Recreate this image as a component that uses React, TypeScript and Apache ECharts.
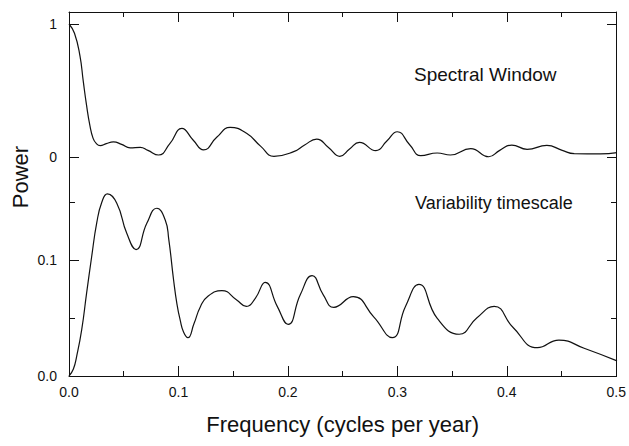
import React, { useEffect, useRef } from "react";
import * as echarts from "echarts";

// Spectral window: [frequency (cycles/yr), power]
const spectralFreq = [0, 0.005, 0.01, 0.013, 0.016, 0.019, 0.022, 0.025, 0.0285, 0.034, 0.0405, 0.048, 0.0558, 0.065, 0.072, 0.0817, 0.092, 0.103, 0.113, 0.1228, 0.135, 0.147, 0.162, 0.175, 0.187, 0.205, 0.215, 0.226, 0.237, 0.247, 0.256, 0.265, 0.28, 0.29, 0.2995, 0.311, 0.321, 0.336, 0.348, 0.3665, 0.383, 0.393, 0.404, 0.418, 0.436, 0.45, 0.461, 0.485, 0.5];
const spectralPower = [1.0, 0.93, 0.76, 0.57, 0.39, 0.24, 0.14, 0.1, 0.085, 0.1, 0.113, 0.095, 0.068, 0.073, 0.05, 0.015, 0.1, 0.215, 0.13, 0.053, 0.15, 0.223, 0.178, 0.08, 0.005, 0.04, 0.09, 0.135, 0.07, 0.005, 0.06, 0.11, 0.048, 0.12, 0.19, 0.09, 0.01, 0.03, 0.015, 0.063, 0.002, 0.05, 0.09, 0.058, 0.087, 0.05, 0.025, 0.024, 0.033];

// Variability timescale
const varFreq = [0, 0.004, 0.007, 0.0116, 0.016, 0.0207, 0.0253, 0.03, 0.035, 0.0436, 0.0527, 0.0612, 0.071, 0.0801, 0.0878, 0.091, 0.0954, 0.0985, 0.1015, 0.1045, 0.1085, 0.114, 0.12, 0.127, 0.1395, 0.153, 0.1618, 0.17, 0.179, 0.19, 0.2, 0.211, 0.2218, 0.232, 0.2416, 0.2593, 0.278, 0.295, 0.307, 0.3193, 0.336, 0.356, 0.372, 0.388, 0.405, 0.4275, 0.447, 0.47, 0.5];
const varPower = [0, 0.006, 0.017, 0.04, 0.071, 0.103, 0.132, 0.15, 0.157, 0.149, 0.123, 0.109, 0.1316, 0.1446, 0.1345, 0.118, 0.083, 0.062, 0.048, 0.038, 0.033, 0.045, 0.06, 0.069, 0.0736, 0.0655, 0.06, 0.067, 0.0807, 0.06, 0.0445, 0.07, 0.0865, 0.07, 0.0592, 0.0684, 0.051, 0.033, 0.06, 0.079, 0.0497, 0.036, 0.05, 0.06, 0.042, 0.0244, 0.031, 0.0239, 0.013];

const xTickLabels = ["0.0", "0.1", "0.2", "0.3", "0.4", "0.5"];
const topMajor = [0, 1];
const bottomMajor = [0, 0.1];
const bottomMinor = [0.05, 0.15];

const FONT = "'Liberation Sans', Arial, Helvetica, sans-serif";
const INK = "#111";

export default function App() {
  const ref = useRef<HTMLDivElement>(null);
  useEffect(() => {
    if (!ref.current) return;
    const chart = echarts.init(ref.current, undefined, { renderer: "svg" });
    const lineStyle = { color: INK, width: 1 };
    const frameX = (pos: string, labels: boolean) => ({
      type: "value",
      gridIndex: 0,
      position: pos,
      min: 0,
      max: 0.5,
      interval: 0.1,
      axisLine: { show: true, onZero: false, lineStyle },
      axisTick: { show: true, inside: true, length: 10, lineStyle },
      minorTick: { show: true, splitNumber: 2, length: 5, lineStyle },
      splitLine: { show: false },
      axisLabel: {
        show: labels,
        margin: 9,
        fontSize: 14,
        fontFamily: FONT,
        color: INK,
        formatter: (v: number) => xTickLabels[Math.round(v * 10)] ?? "",
      },
      ...(labels
        ? {
            name: "Frequency (cycles per year)",
            nameLocation: "middle",
            nameGap: 37,
            nameTextStyle: { fontSize: 22, fontFamily: FONT, color: INK },
          }
        : {}),
    });
    const hiddenX = (g: number) => ({ type: "value", gridIndex: g, min: 0, max: 0.5, show: false });
    const yAx = (g: number, pos: string, min: number, max: number, ticks: number[], len: number, labels: boolean, fmt?: (v: number) => string) => ({
      type: "value",
      gridIndex: g,
      position: pos,
      min,
      max,
      axisLine: { show: false },
      splitLine: { show: false },
      axisTick: { show: true, inside: true, length: len, customValues: ticks, lineStyle },
      axisLabel: {
        show: labels,
        customValues: ticks,
        margin: 12,
        fontSize: 14,
        fontFamily: FONT,
        color: INK,
        formatter: fmt,
      },
    });
    const frameY = (pos: string) => ({
      type: "value",
      gridIndex: 0,
      position: pos,
      min: 0,
      max: 1,
      axisLine: { show: true, onZero: false, lineStyle },
      axisTick: { show: false },
      axisLabel: { show: false },
      splitLine: { show: false },
    });

    chart.setOption({
      animation: false,
      grid: [
        { left: 69, right: 12, top: 12, bottom: 70 },
        { left: 69, right: 12, top: 24, height: 133 },
        { left: 69, right: 12, top: 202, bottom: 70 },
      ],
      xAxis: [frameX("bottom", true), frameX("top", false), hiddenX(1), hiddenX(2)],
      yAxis: [
        frameY("left"),
        frameY("right"),
        yAx(1, "left", 0, 1, topMajor, 10, true, (v: number) => String(Math.round(v))),
        yAx(1, "right", 0, 1, topMajor, 10, false),
        yAx(2, "left", 0, 0.15, bottomMajor, 10, true, (v: number) => v.toFixed(1)),
        yAx(2, "left", 0, 0.15, bottomMinor, 6, false),
        yAx(2, "right", 0, 0.15, bottomMajor, 10, false),
        yAx(2, "right", 0, 0.15, bottomMinor, 6, false),
      ],
      series: [
        {
          type: "line",
          name: "Spectral Window",
          xAxisIndex: 2,
          yAxisIndex: 2,
          data: spectralFreq.map((f, i) => [f, spectralPower[i]]),
          smooth: 0.5,
          showSymbol: false,
          clip: false,
          lineStyle: { color: INK, width: 1.2 },
        },
        {
          type: "line",
          name: "Variability timescale",
          xAxisIndex: 3,
          yAxisIndex: 4,
          data: varFreq.map((f, i) => [f, varPower[i]]),
          smooth: 0.5,
          showSymbol: false,
          clip: false,
          lineStyle: { color: INK, width: 1.2 },
        },
      ],
      graphic: [
        {
          type: "text",
          left: 414,
          top: 65,
          style: { text: "Spectral Window", fontSize: 19, fontFamily: FONT, fill: INK },
        },
        {
          type: "text",
          left: 415,
          top: 194,
          style: { text: "Variability timescale", fontSize: 18, fontFamily: FONT, fill: INK },
        },
        {
          type: "text",
          x: 20,
          y: 177,
          rotation: Math.PI / 2,
          style: { text: "Power", fontSize: 22, fontFamily: FONT, fill: INK, align: "center", verticalAlign: "middle" },
        },
      ],
    });
    return () => chart.dispose();
  }, []);
  return <div ref={ref} style={{ position: "fixed", left: 0, top: 0, width: 629, height: 446, background: "#fff" }} />;
}
